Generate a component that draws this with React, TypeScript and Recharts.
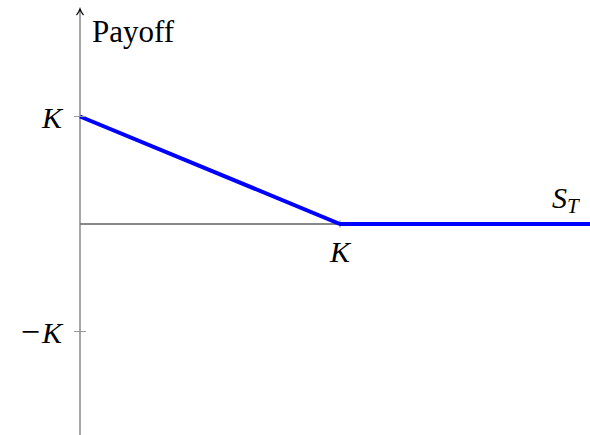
import React from "react";
import {
  LineChart,
  Line,
  XAxis,
  YAxis,
  ReferenceLine,
  ReferenceDot,
} from "recharts";

// long put payoff: max(K - S_T, 0), with K = 1
const stockPrice = [0, 1, 2];
const payoff = [1, 0, 0];
const yTicks = [-1, 1];
const yTickLabels = ["−K", "K"];
const strikeLabel = "K";

const data = stockPrice.map((s, i) => ({ s, payoff: payoff[i] }));

const TICK_GAP = 18;
const textStyle: React.CSSProperties = {
  fontFamily: "Liberation Serif",
  fontSize: 30,
  fill: "#000",
};
const italic: React.CSSProperties = { ...textStyle, fontStyle: "italic" };

function YTick(props: any) {
  const { x, y, payload } = props;
  const label = yTickLabels[yTicks.indexOf(payload.value)] ?? "";
  const neg = label.startsWith("−");
  return (
    <g>
      <line
        x1={x + TICK_GAP - 6}
        x2={x + TICK_GAP + 6}
        y1={y}
        y2={y}
        stroke="#999"
        strokeWidth={1}
      />
      <text x={x} y={y} dy={11} textAnchor="end" style={textStyle}>
        {neg && <tspan style={{ fontStyle: "normal", fontSize: 34 }}>−</tspan>}
        <tspan style={{ fontStyle: "italic" }} dx={neg ? 2 : 0}>
          {neg ? label.slice(1) : label}
        </tspan>
      </text>
    </g>
  );
}

function YAxisDecor(props: any) {
  const { x, y } = props.viewBox;
  return (
    <g>
      <path
        d={`M ${x - 3.5} ${y + 6} Q ${x - 1} ${y + 3} ${x} ${y} Q ${x + 1} ${y + 3} ${x + 3.5} ${y + 6}`}
        stroke="#000"
        strokeWidth={1.2}
        fill="none"
      />
      <text x={x + 12} y={y + 33} style={{ ...textStyle, fontSize: 31 }}>
        Payoff
      </text>
    </g>
  );
}

function XAxisDecor(props: any) {
  const { x, y } = props.viewBox;
  return (
    <text x={x + 472} y={y - 16} style={italic}>
      <tspan>S</tspan>
      <tspan style={{ fontSize: 21 }} dy={5}>
        T
      </tspan>
    </text>
  );
}

function StrikeLabel(props: any) {
  const { x, y, width } = props.viewBox;
  return (
    <text x={x + (width || 0) / 2} y={y + 38} textAnchor="middle" style={italic}>
      {strikeLabel}
    </text>
  );
}

export default function App() {
  return (
    <div
      style={{
        position: "absolute",
        left: 0,
        top: 0,
        width: 590,
        height: 435,
        overflow: "hidden",
        background: "#fff",
      }}
    >
      <LineChart
        width={600}
        height={439}
        data={data}
        margin={{ top: 9, right: 0, bottom: 0, left: 0 }}
      >
        <XAxis dataKey="s" type="number" domain={[0, 2]} hide />
        <YAxis
          type="number"
          domain={[-2, 2]}
          ticks={yTicks}
          width={80}
          axisLine={false}
          tickLine={false}
          tickSize={6}
          tickMargin={12}
          tick={<YTick />}
        />
        <ReferenceLine
          y={0}
          stroke="#111"
          strokeWidth={1}
          label={<XAxisDecor />}
        />
        <ReferenceLine
          x={0}
          stroke="#777"
          strokeWidth={1.3}
          label={<YAxisDecor />}
        />
        <ReferenceLine
          segment={[
            { x: 1, y: -0.035 },
            { x: 1, y: 0.035 },
          ]}
          stroke="#999"
          strokeWidth={1}
        />
        <ReferenceDot
          x={1}
          y={0}
          r={0}
          fill="none"
          stroke="none"
          label={<StrikeLabel />}
        />
        <Line
          dataKey="payoff"
          type="linear"
          stroke="#0000ff"
          strokeWidth={4}
          dot={false}
          isAnimationActive={false}
        />
      </LineChart>
    </div>
  );
}
